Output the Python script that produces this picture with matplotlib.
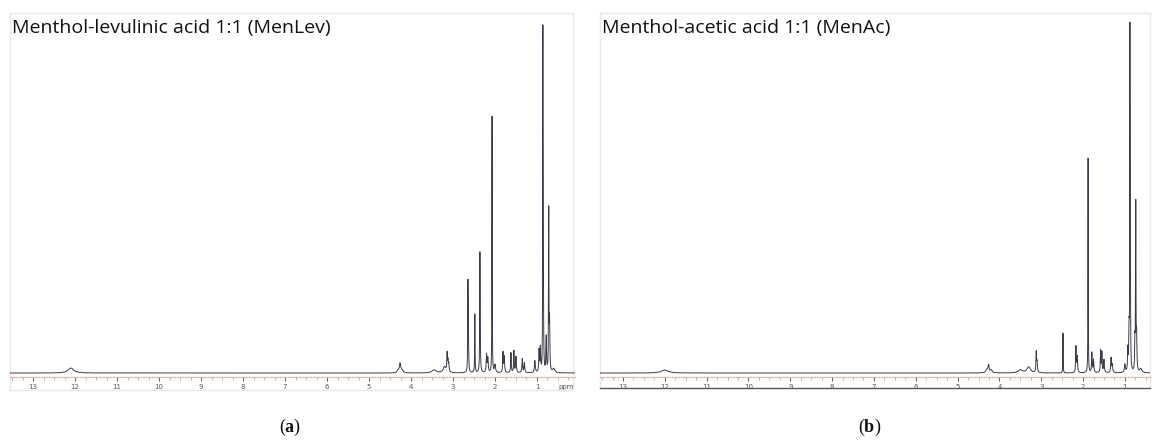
import numpy as np
import matplotlib
matplotlib.use("Agg")
from matplotlib import pyplot as plt
from matplotlib.ticker import MultipleLocator

plt.rcParams['mathtext.fontset'] = 'custom'
plt.rcParams['mathtext.rm'] = 'Liberation Serif'
plt.rcParams['mathtext.bf'] = 'Liberation Serif:bold'

# Peak lists: shift (ppm), height, half width (ppm)
menlev_shift = [12.1, 4.30, 4.26, 4.22, 3.45, 3.20, 3.14, 3.12, 3.10,
                2.645, 2.635, 2.48, 2.36, 2.355, 2.20, 2.17, 2.07, 2.00,
                1.81, 1.78, 1.62, 1.55, 1.50, 1.35, 1.30, 1.05, 0.95, 0.92,
                0.86, 0.85, 0.78, 0.72, 0.70, 0.60]
menlev_height = [5, 3, 8, 3, 3, 6, 18, 10, 8,
                 79, 45, 59, 87, 50, 18, 14, 258, 8,
                 20, 16, 20, 22, 16, 14, 10, 12, 22, 24,
                 320, 110, 35, 160, 50, 4]
menlev_width = [0.08, 0.03, 0.015, 0.03, 0.06, 0.04, 0.008, 0.008, 0.01,
                0.005, 0.007, 0.005, 0.005, 0.007, 0.01, 0.01, 0.004, 0.015,
                0.008, 0.01, 0.008, 0.008, 0.01, 0.01, 0.01, 0.012, 0.008, 0.008,
                0.004, 0.006, 0.008, 0.005, 0.008, 0.03]

menac_shift = [12.0, 4.30, 4.26, 4.20, 3.50, 3.30, 3.12, 3.10,
               2.48, 2.17, 2.14, 1.88, 1.79, 1.75, 1.58, 1.55, 1.50,
               1.33, 1.30, 1.00, 0.93, 0.90, 0.88, 0.87, 0.76, 0.74, 0.72, 0.62]
menac_height = [3, 3, 7, 3, 3, 6, 20, 10,
                40, 26, 16, 216, 20, 13, 22, 20, 13,
                15, 8, 8, 22, 38, 320, 100, 30, 165, 35, 4]
menac_width = [0.1, 0.03, 0.015, 0.03, 0.06, 0.05, 0.008, 0.01,
               0.004, 0.008, 0.01, 0.004, 0.008, 0.01, 0.008, 0.008, 0.01,
               0.01, 0.01, 0.012, 0.008, 0.008, 0.004, 0.006, 0.008, 0.005, 0.008, 0.03]

titles = ["Menthol-levulinic acid 1:1 (MenLev)", "Menthol-acetic acid 1:1 (MenAc)"]
letters = ["a", "b"]
tick_values = list(range(1, 14))

W, H = 1152, 441
fig = plt.figure(figsize=(W / 100, H / 100), dpi=100)


def spectrum(x, shifts, heights, widths):
    y = np.zeros_like(x)
    for c, h, w in zip(shifts, heights, widths):
        y += h / (1 + ((x - c) / w) ** 2)
    return y


panels = [
    # frame (l, t, r, b), axes (l, r), ppm range, data
    ((10, 13, 573, 390), (10, 575), (13.55, 0.095), (menlev_shift, menlev_height, menlev_width)),
    ((600, 13, 1150, 388), (600, 1150), (13.55, 0.40), (menac_shift, menac_height, menac_width)),
]

for i, (frame, span, lims, data) in enumerate(panels):
    fl, ft, fr, fb = frame
    fax = fig.add_axes([fl / W, 1 - fb / H, (fr - fl) / W, (fb - ft) / H])
    fax.set_xticks([])
    fax.set_yticks([])
    for s in fax.spines.values():
        s.set_color('#e6e9ec')
        s.set_linewidth(1)
    if i == 1:
        fax.spines['bottom'].set_color('#555555')
    fax.patch.set_alpha(0)

    ax = fig.add_axes([span[0] / W, 1 - 377 / H, (span[1] - span[0]) / W, 364 / H])
    ax.patch.set_alpha(0)
    x = np.linspace(lims[1], lims[0], 30000)
    y = spectrum(x, *data)
    ax.plot(x, y, color='#3a3a4a', lw=0.7)
    ax.set_xlim(lims)
    ax.set_ylim(-4, 362)
    for s in ['top', 'left', 'right']:
        ax.spines[s].set_visible(False)
    ax.spines['bottom'].set_color('#e8a595')
    ax.spines['bottom'].set_linestyle((0, (1, 1.5)))
    ax.set_yticks([])
    ax.set_xticks(tick_values)
    ax.set_xticklabels([str(v) for v in tick_values])
    ax.xaxis.set_minor_locator(MultipleLocator(0.25))
    ax.tick_params(axis='x', which='major', length=3, width=0.6, color='#444444',
                   labelsize=5, labelcolor='#555555', pad=2)
    ax.tick_params(axis='x', which='minor', length=2, width=0.5, color='#999999')
    if i == 0:
        ax.text(0.3, -0.02, "ppm", transform=ax.get_xaxis_transform(),
                ha='center', va='top', fontsize=5, color='#555555')

    fig.text((fl + 2) / W, 1 - 28 / H, titles[i], fontsize=14, family='Open Sans',
             color='#111111', ha='left', va='center')
    cx = 290 if i == 0 else 870
    fig.text(cx / W, 1 - 427 / H, r"($\mathbf{%s}$)" % letters[i], fontsize=13,
             family='Liberation Serif', ha='center', va='center', color='#111111')

fig.savefig("out.png", dpi=100)
